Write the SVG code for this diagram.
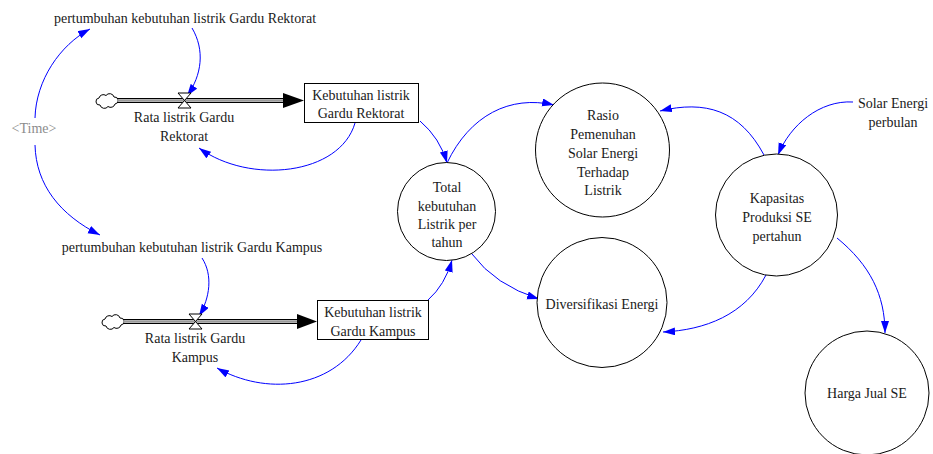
<svg xmlns="http://www.w3.org/2000/svg" width="933" height="454" viewBox="0 0 933 454">
  <style>
    text { font-family: "Liberation Serif", "Times New Roman", serif; font-size: 14px; fill: #1a1a1a; text-anchor: middle; }
    .shadow { fill: #8c8c8c; }
    .aux { fill: #fff; stroke: #000; stroke-width: 1; }
    .stock { fill: #fff; stroke: #000; stroke-width: 1; }
    .link { fill: none; stroke: #0000ff; stroke-width: 1; marker-end: url(#head); }
    .pipe-out { stroke: #000; stroke-width: 1; }
    .pipe-in { stroke: #9a9a9a; stroke-width: 2.5; }
    .cloud { fill: #fff; stroke: #000; stroke-width: 1; }
    .valve { fill: #fff; stroke: #000; stroke-width: 1; }
  </style>
  <defs>
    <marker id="head" markerUnits="userSpaceOnUse" markerWidth="13" markerHeight="9" refX="12" refY="4" orient="auto">
      <path d="M0,0 L12,4 L0,8 z" fill="#0000ff"/>
    </marker>
    <path id="cloudShape" d="M-7,4 a3.5,3.5 0 0 1 -1,-7 a4.5,4.5 0 0 1 7,-2.5 a4.5,4.5 0 0 1 8,1.5 a3.5,3.5 0 0 1 1,7 a4.5,4.5 0 0 1 -7,2.5 a4.5,4.5 0 0 1 -8,-1.5 z"/>
  </defs>

  <!-- connectors -->
  <g id="connectors">
    <path class="link" d="M35,118 C36,80 60,45 90,29"/>
    <path class="link" d="M35,145 C36,185 60,215 100,235"/>
    <path class="link" d="M192,28 C205,50 202,75 187,96"/>
    <path class="link" d="M355,123 C340,175 250,185 199,148"/>
    <path class="link" d="M420,121 Q440,138 447,163"/>
    <path class="link" d="M447,163 C470,115 510,95 554,105"/>
    <path class="link" d="M202,258 C213,275 210,298 199,316"/>
    <path class="link" d="M361,340 C330,390 265,395 217,368"/>
    <path class="link" d="M428,300 Q445,285 452,260"/>
    <path class="link" d="M472,254 Q495,285 539,299"/>
    <path class="link" d="M766,275 C745,315 705,330 663,332"/>
    <path class="link" d="M837,238 C870,265 885,295 885,333"/>
    <path class="link" d="M853,102 C820,100 790,125 778,155"/>
    <path class="link" d="M764,155 C740,110 705,100 660,111"/>
  </g>

  <!-- flow: Rata listrik Gardu Rektorat -->
  <g id="flow-rektorat">
    <use href="#cloudShape" class="cloud" transform="translate(107,101)"/>
    <line class="pipe-in" x1="117" y1="100.5" x2="286" y2="100.5"/>
    <line class="pipe-out" x1="117" y1="98.5" x2="286" y2="98.5"/>
    <line class="pipe-out" x1="117" y1="102.5" x2="286" y2="102.5"/>
    <path d="M283,93 L304,100.5 L283,108 z" fill="#000"/>
    <path class="valve" d="M178,93 L191,93 L184.5,100.5 z M184.5,100.5 L191,108 L178,108 z"/>
    <text x="184" y="122">Rata listrik Gardu</text>
    <text x="184" y="141">Rektorat</text>
  </g>

  <!-- flow: Rata listrik Gardu Kampus -->
  <g id="flow-kampus">
    <use href="#cloudShape" class="cloud" transform="translate(113,322)"/>
    <line class="pipe-in" x1="123" y1="321.5" x2="299" y2="321.5"/>
    <line class="pipe-out" x1="123" y1="319.5" x2="299" y2="319.5"/>
    <line class="pipe-out" x1="123" y1="323.5" x2="299" y2="323.5"/>
    <path d="M297,314 L317,321.5 L297,329 z" fill="#000"/>
    <path class="valve" d="M189,314 L202,314 L195.5,321.5 z M195.5,321.5 L202,329 L189,329 z"/>
    <text x="195" y="343">Rata listrik Gardu</text>
    <text x="195" y="362">Kampus</text>
  </g>

  <!-- stocks -->
  <g id="stock-rektorat">
    <rect class="stock" x="304.5" y="83.5" width="114" height="39"/>
    <text x="361" y="100">Kebutuhan listrik</text>
    <text x="361" y="118">Gardu Rektorat</text>
  </g>
  <g id="stock-kampus">
    <rect class="stock" x="317.5" y="300.5" width="111" height="39"/>
    <text x="373" y="317">Kebutuhan listrik</text>
    <text x="373" y="336">Gardu Kampus</text>
  </g>

  <!-- auxiliary variables -->
  <g id="time">
    <text class="shadow" x="34" y="133">&lt;Time&gt;</text>
  </g>
  <g id="pertumbuhan-rektorat">
    <text x="185" y="23">pertumbuhan kebutuhan listrik Gardu Rektorat</text>
  </g>
  <g id="pertumbuhan-kampus">
    <text x="192" y="252">pertumbuhan kebutuhan listrik Gardu Kampus</text>
  </g>
  <g id="solar-energi">
    <text x="893" y="108">Solar Energi</text>
    <text x="893" y="127">perbulan</text>
  </g>

  <g id="total">
    <circle class="aux" cx="446.5" cy="211.5" r="49"/>
    <text x="447" y="192">Total</text>
    <text x="447" y="211">kebutuhan</text>
    <text x="447" y="229">Listrik per</text>
    <text x="447" y="247">tahun</text>
  </g>
  <g id="rasio">
    <circle class="aux" cx="602.5" cy="150" r="67"/>
    <text x="603" y="120">Rasio</text>
    <text x="603" y="139">Pemenuhan</text>
    <text x="603" y="158">Solar Energi</text>
    <text x="603" y="177">Terhadap</text>
    <text x="603" y="195">Listrik</text>
  </g>
  <g id="kapasitas">
    <circle class="aux" cx="776.5" cy="215" r="61"/>
    <text x="777" y="203">Kapasitas</text>
    <text x="777" y="222">Produksi SE</text>
    <text x="777" y="241">pertahun</text>
  </g>
  <g id="diversifikasi">
    <circle class="aux" cx="602" cy="302.5" r="65"/>
    <text x="602" y="309">Diversifikasi Energi</text>
  </g>
  <g id="harga">
    <circle class="aux" cx="867" cy="393" r="62"/>
    <text x="867" y="398">Harga Jual SE</text>
  </g>
</svg>
